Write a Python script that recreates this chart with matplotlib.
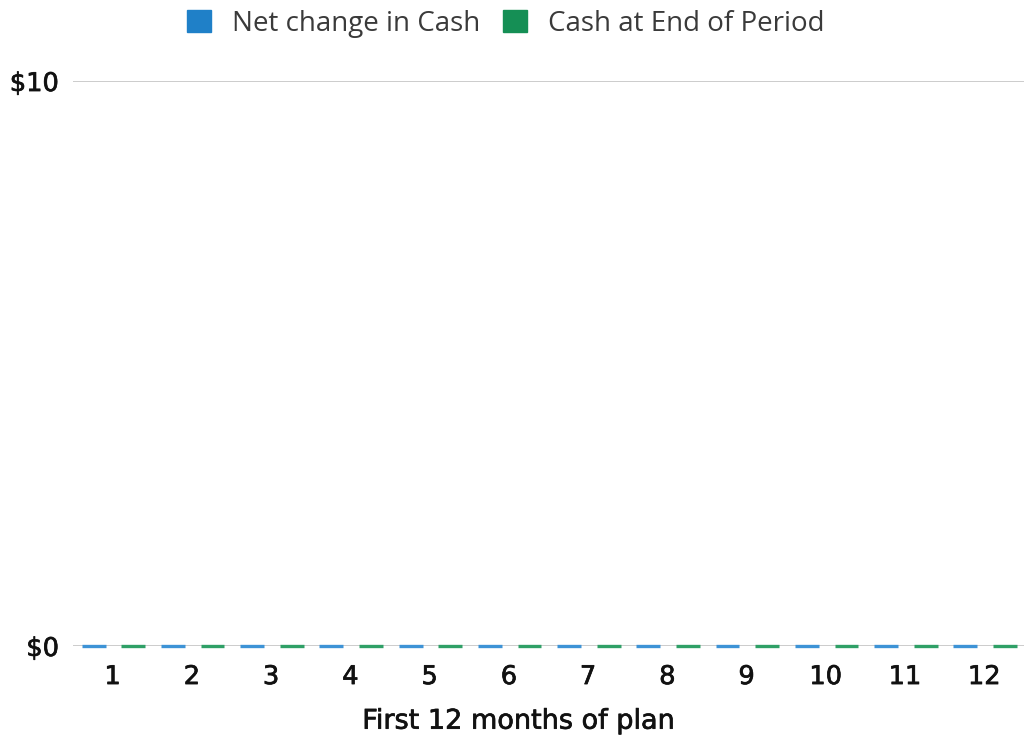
import matplotlib
matplotlib.use('Agg')
import matplotlib.pyplot as plt
import matplotlib.patheffects as pe
from matplotlib.patches import Patch
import numpy as np

months = [str(m) for m in range(1, 13)]
net_change = [0, 0, 0, 0, 0, 0, 0, 0, 0, 0, 0, 0]
cash_end = [0, 0, 0, 0, 0, 0, 0, 0, 0, 0, 0, 0]
series_names = ['Net change in Cash', 'Cash at End of Period']
y_ticks = [0, 10]
y_labels = ['$0', '$10']

blue = '#1f80c8'
green = '#158f55'

fig = plt.figure(figsize=(10.26, 7.42), dpi=100)
ax = fig.add_axes([0.0712, 0.1294, 0.9268, 0.7614])

x = np.arange(len(months))
w = 0.3
ax.bar(x - 0.24, net_change, w, color=blue, edgecolor='#3d93d6',
       linewidth=2.4, zorder=3, clip_on=False)
ax.bar(x + 0.26, cash_end, w, color=green, edgecolor='#2fa066',
       linewidth=2.4, zorder=3, clip_on=False)

ax.set_xlim(-0.5, len(months) - 0.5)
ax.set_ylim(0, 10)
ax.set_yticks(y_ticks)
ax.set_yticklabels(y_labels)
ax.set_xticks(x)
ax.set_xticklabels(months)
ax.yaxis.grid(True, color='#c4c4c4', linewidth=1.2, zorder=0)
ax.set_axisbelow(True)
for s in ax.spines.values():
    s.set_visible(False)

# a bit heavier than regular DejaVu, lighter than bold
thick = [pe.withStroke(linewidth=0.5, foreground='#111111')]
ax.tick_params(length=0, labelsize=18.5, colors='#111111')
ax.tick_params(axis='x', pad=13)
ax.tick_params(axis='y', pad=10)
for lab in ax.get_xticklabels() + ax.get_yticklabels():
    lab.set_fontfamily('DejaVu Sans')
    lab.set_path_effects(thick)

ax.set_xlabel('First 12 months of plan', fontsize=19.5, color='#111111',
              family='DejaVu Sans', path_effects=thick)
ax.xaxis.set_label_coords(0.469, -0.111)

handles = [Patch(facecolor=blue, edgecolor=blue), Patch(facecolor=green, edgecolor=green)]
leg = fig.legend(handles, series_names, loc='center', bbox_to_anchor=(0.493, 0.968),
                 ncol=2, frameon=False, handlelength=0.85, handleheight=0.85,
                 handletextpad=0.75, columnspacing=0.85,
                 prop={'family': 'Open Sans', 'size': 20})
for t in leg.get_texts():
    t.set_color('#3a3a3a')

fig.savefig('out.png', dpi=100)
